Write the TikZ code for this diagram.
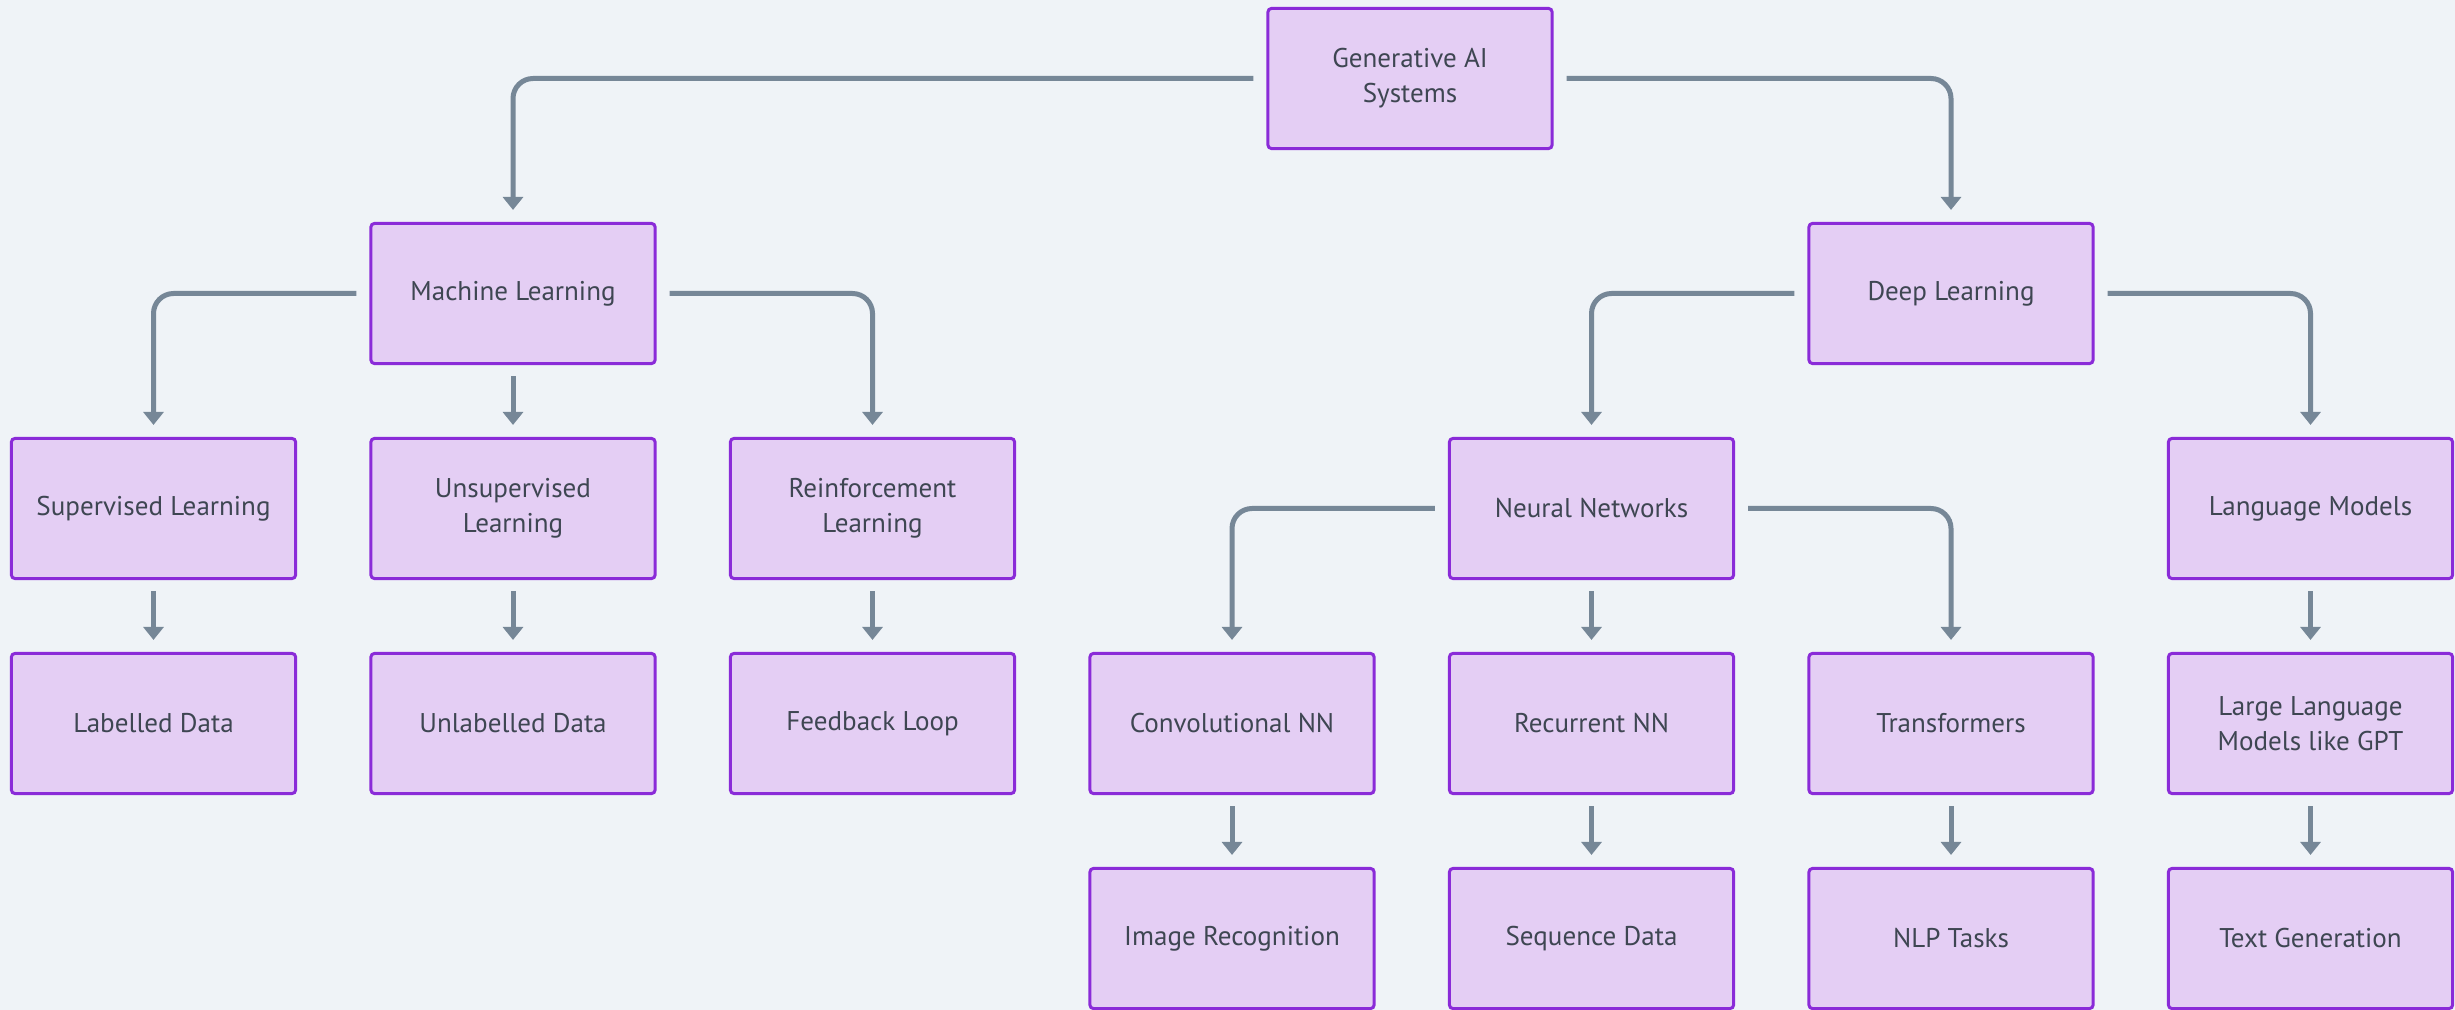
\documentclass[tikz,border=0pt]{standalone}
\usepackage{fontspec}
\setmainfont{PT Sans}
\usetikzlibrary{arrows.meta}
\definecolor{bgc}{HTML}{EFF3F7}
\definecolor{boxfill}{HTML}{E4CEF4}
\definecolor{boxline}{HTML}{8A2BD8}
\definecolor{conncol}{HTML}{768797}
\definecolor{txtcol}{HTML}{3E4652}
\tikzset{
  box/.style={draw=boxline, fill=boxfill, line width=0.03cm, rounded corners=0.035cm,
    minimum width=2.84cm, minimum height=1.40cm, inner sep=0pt, align=center,
    text=txtcol, font=\fontsize{7.7pt}{10pt}\selectfont},
  conn/.style={draw=conncol, line width=0.05cm, rounded corners=0.2cm,
    -{Triangle[width=0.2cm,length=0.13cm]}},
}
\begin{document}
\begin{tikzpicture}[x=0.01cm,y=-0.01cm]
\useasboundingbox (0,0) rectangle (2455,1010);
\fill[bgc] (0,0) rectangle (2455,1010);
% row 1
\node[box] (gen) at (1410,78.5) {Generative AI\\Systems};
% row 2
\node[box] (ml) at (513,293.5) {Machine Learning};
\node[box] (dl) at (1951,293.5) {Deep Learning};
% row 3
\node[box] (sup) at (153.5,508.5) {Supervised Learning};
\node[box] (uns) at (513,508.5) {Unsupervised\\Learning};
\node[box] (rei) at (872.5,508.5) {Reinforcement\\Learning};
\node[box] (nn) at (1591.5,508.5) {Neural Networks};
\node[box] (lm) at (2310.5,508.5) {Language Models};
% row 4
\node[box] (lab) at (153.5,723.5) {Labelled Data};
\node[box] (unl) at (513,723.5) {Unlabelled Data};
\node[box] (fb) at (872.5,723.5) {Feedback Loop};
\node[box] (cnn) at (1232,723.5) {Convolutional NN};
\node[box] (rnn) at (1591.5,723.5) {Recurrent NN};
\node[box] (tr) at (1951,723.5) {Transformers};
\node[box] (llm) at (2310.5,723.5) {Large Language\\Models like GPT};
% row 5
\node[box] (img) at (1232,938.5) {Image Recognition};
\node[box] (seq) at (1591.5,938.5) {Sequence Data};
\node[box] (nlp) at (1951,938.5) {NLP Tasks};
\node[box] (tg) at (2310.5,938.5) {Text Generation};
% side connectors
\draw[conn] ([xshift=-0.13cm]gen.west) -| ([yshift=0.12cm]ml.north);
\draw[conn] ([xshift=0.13cm]gen.east) -| ([yshift=0.12cm]dl.north);
\draw[conn] ([xshift=-0.13cm]ml.west) -| ([yshift=0.12cm]sup.north);
\draw[conn] ([xshift=0.13cm]ml.east) -| ([yshift=0.12cm]rei.north);
\draw[conn] ([xshift=-0.13cm]dl.west) -| ([yshift=0.12cm]nn.north);
\draw[conn] ([xshift=0.13cm]dl.east) -| ([yshift=0.12cm]lm.north);
\draw[conn] ([xshift=-0.13cm]nn.west) -| ([yshift=0.12cm]cnn.north);
\draw[conn] ([xshift=0.13cm]nn.east) -| ([yshift=0.12cm]tr.north);
% straight connectors
\foreach \a/\b in {ml/uns, sup/lab, uns/unl, rei/fb, nn/rnn, lm/llm, cnn/img, rnn/seq, tr/nlp, llm/tg}
  \draw[conn] ([yshift=-0.11cm]\a.south) -- ([yshift=0.12cm]\b.north);
\end{tikzpicture}
\end{document}
